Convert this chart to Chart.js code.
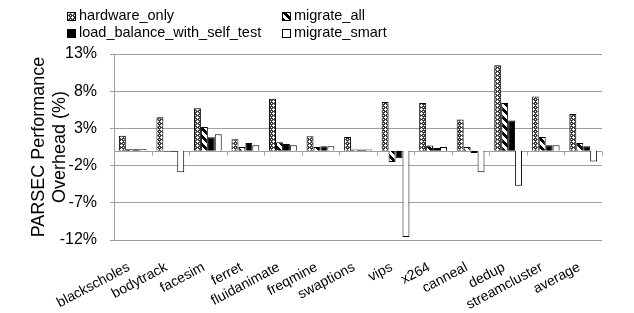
<!DOCTYPE html>
<html>
<head>
<meta charset="utf-8">
<script src="https://cdn.jsdelivr.net/npm/chart.js@4"></script>
<style>
  body { margin: 0; background: #fff; }
  #wrap { position: relative; width: 634px; height: 313px; }
  .legend-item { position: absolute; font: 14.5px "Liberation Sans", Arial, sans-serif; color: #000; white-space: nowrap; line-height: 16px; }
  .legend-item canvas { display: inline-block; vertical-align: -1px; margin-right: 3px; }
</style>
</head>
<body>
<div id="wrap">
  <canvas id="chart"></canvas>
  <div class="legend-item" style="left:67px;top:7px"><canvas id="sw0" width="9" height="9"></canvas>hardware_only</div>
  <div class="legend-item" style="left:282px;top:7px"><canvas id="sw1" width="9" height="9"></canvas>migrate_all</div>
  <div class="legend-item" style="left:67px;top:24px"><canvas id="sw2" width="9" height="9"></canvas>load_balance_with_self_test</div>
  <div class="legend-item" style="left:282px;top:24px"><canvas id="sw3" width="9" height="9"></canvas>migrate_smart</div>
</div>
<script>
const categories = ['blackscholes', 'bodytrack', 'facesim', 'ferret', 'fluidanimate', 'freqmine',
  'swaptions', 'vips', 'x264', 'canneal', 'dedup', 'streamcluster', 'average'];
const hardwareOnly = [2.0, 4.5, 5.7, 1.55, 7.0, 1.95, 1.85, 6.55, 6.4, 4.2, 11.5, 7.3, 4.95];
const migrateAll = [0.2, -0.1, 3.2, 0.5, 1.15, 0.5, 0.15, -1.5, 0.7, 0.5, 6.4, 1.85, 1.05];
const loadBalance = [0.2, -0.15, 1.8, 1.05, 0.9, 0.6, 0.15, -1.0, 0.35, -0.3, 4.05, 0.75, 0.6];
const migrateSmart = [0.2, -2.9, 2.2, 0.75, 0.75, 0.6, 0.15, -11.6, 0.5, -2.9, -4.7, 0.75, -1.45];
const yTicks = [13, 8, 3, -2, -7, -12];

function makePattern(size, paint) {
  const c = document.createElement('canvas');
  c.width = size;
  c.height = size;
  const g = c.getContext('2d');
  paint(g);
  return g.createPattern(c, 'repeat');
}

// grey lattice with white dots
const dotPattern = makePattern(4, (g) => {
  g.fillStyle = '#3c3c3c';
  g.fillRect(0, 0, 4, 4);
  g.fillStyle = '#fff';
  g.fillRect(1, 0, 1, 3);
  g.fillRect(0, 1, 3, 1);
  g.fillRect(3, 3, 1, 1);
});

// wide black "\" stripes
const stripePattern = makePattern(8, (g) => {
  g.fillStyle = '#fff';
  g.fillRect(0, 0, 8, 8);
  g.fillStyle = '#000';
  for (let y = 0; y < 8; y++) {
    for (let x = 0; x < 8; x++) {
      if (((x - y) % 8 + 8) % 8 < 4) g.fillRect(x, y, 1, 1);
    }
  }
});

const fills = [dotPattern, stripePattern, '#000', '#fff'];

fills.forEach((f, i) => {
  const g = document.getElementById('sw' + i).getContext('2d');
  g.fillStyle = f;
  g.fillRect(0, 0, 9, 9);
  g.strokeStyle = '#000';
  g.lineWidth = 1;
  g.strokeRect(0.5, 0.5, 8, 8);
});

const zeroLine = {
  id: 'zeroLine',
  beforeDatasetsDraw(chart) {
    const { ctx, scales: { x, y } } = chart;
    const y0 = Math.round(y.getPixelForValue(0)) + 0.5;
    const step = (x.right - x.left) / categories.length;
    ctx.save();
    ctx.strokeStyle = '#a0a0a0';
    ctx.lineWidth = 1;
    ctx.beginPath();
    ctx.moveTo(x.left, y0);
    ctx.lineTo(x.right, y0);
    for (let i = 0; i <= categories.length; i++) {
      const px = Math.round(x.left + i * step) + 0.5;
      ctx.moveTo(px, y0);
      ctx.lineTo(px, y0 + 4);
    }
    ctx.stroke();
    ctx.restore();
  },
};

const font = 'Liberation Sans, Arial, sans-serif';

new Chart(document.getElementById('chart'), {
  type: 'bar',
  data: {
    labels: categories,
    datasets: [
      { label: 'hardware_only', data: hardwareOnly, backgroundColor: dotPattern },
      { label: 'migrate_all', data: migrateAll, backgroundColor: stripePattern },
      { label: 'load_balance_with_self_test', data: loadBalance, backgroundColor: '#000' },
      { label: 'migrate_smart', data: migrateSmart, backgroundColor: '#fff' },
    ].map(d => ({ ...d, borderColor: '#000', borderWidth: 1, categoryPercentage: 0.74, barPercentage: 1.0 })),
  },
  options: {
    responsive: true,
    maintainAspectRatio: false,
    animation: false,
    layout: { padding: { top: 54, right: 32, left: 0, bottom: 0 } },
    plugins: { legend: { display: false }, tooltip: { enabled: false } },
    scales: {
      x: {
        grid: { display: false, drawTicks: false },
        border: { display: false },
        ticks: {
          color: '#000',
          font: { family: font, size: 14 },
          minRotation: 28,
          maxRotation: 28,
          autoSkip: false,
          padding: 19,
          labelOffset: -4,
        },
        afterFit: (scale) => { scale.height = 73; },
      },
      y: {
        min: -12,
        max: 13,
        afterBuildTicks: (scale) => { scale.ticks = yTicks.map(v => ({ value: v })); },
        grid: { color: '#a0a0a0', tickLength: 4 },
        border: { color: '#a0a0a0' },
        ticks: {
          color: '#000',
          font: { family: font, size: 16 },
          padding: 13,
          callback: (v) => v + '%',
        },
        title: {
          display: true,
          text: ['PARSEC Performance', 'Overhead (%)'],
          color: '#000',
          font: { family: font, size: 18 },
          padding: { top: 28, bottom: 0 },
        },
        afterFit: (scale) => { scale.width = 114; },
      },
    },
  },
  plugins: [zeroLine],
});
</script>
</body>
</html>
